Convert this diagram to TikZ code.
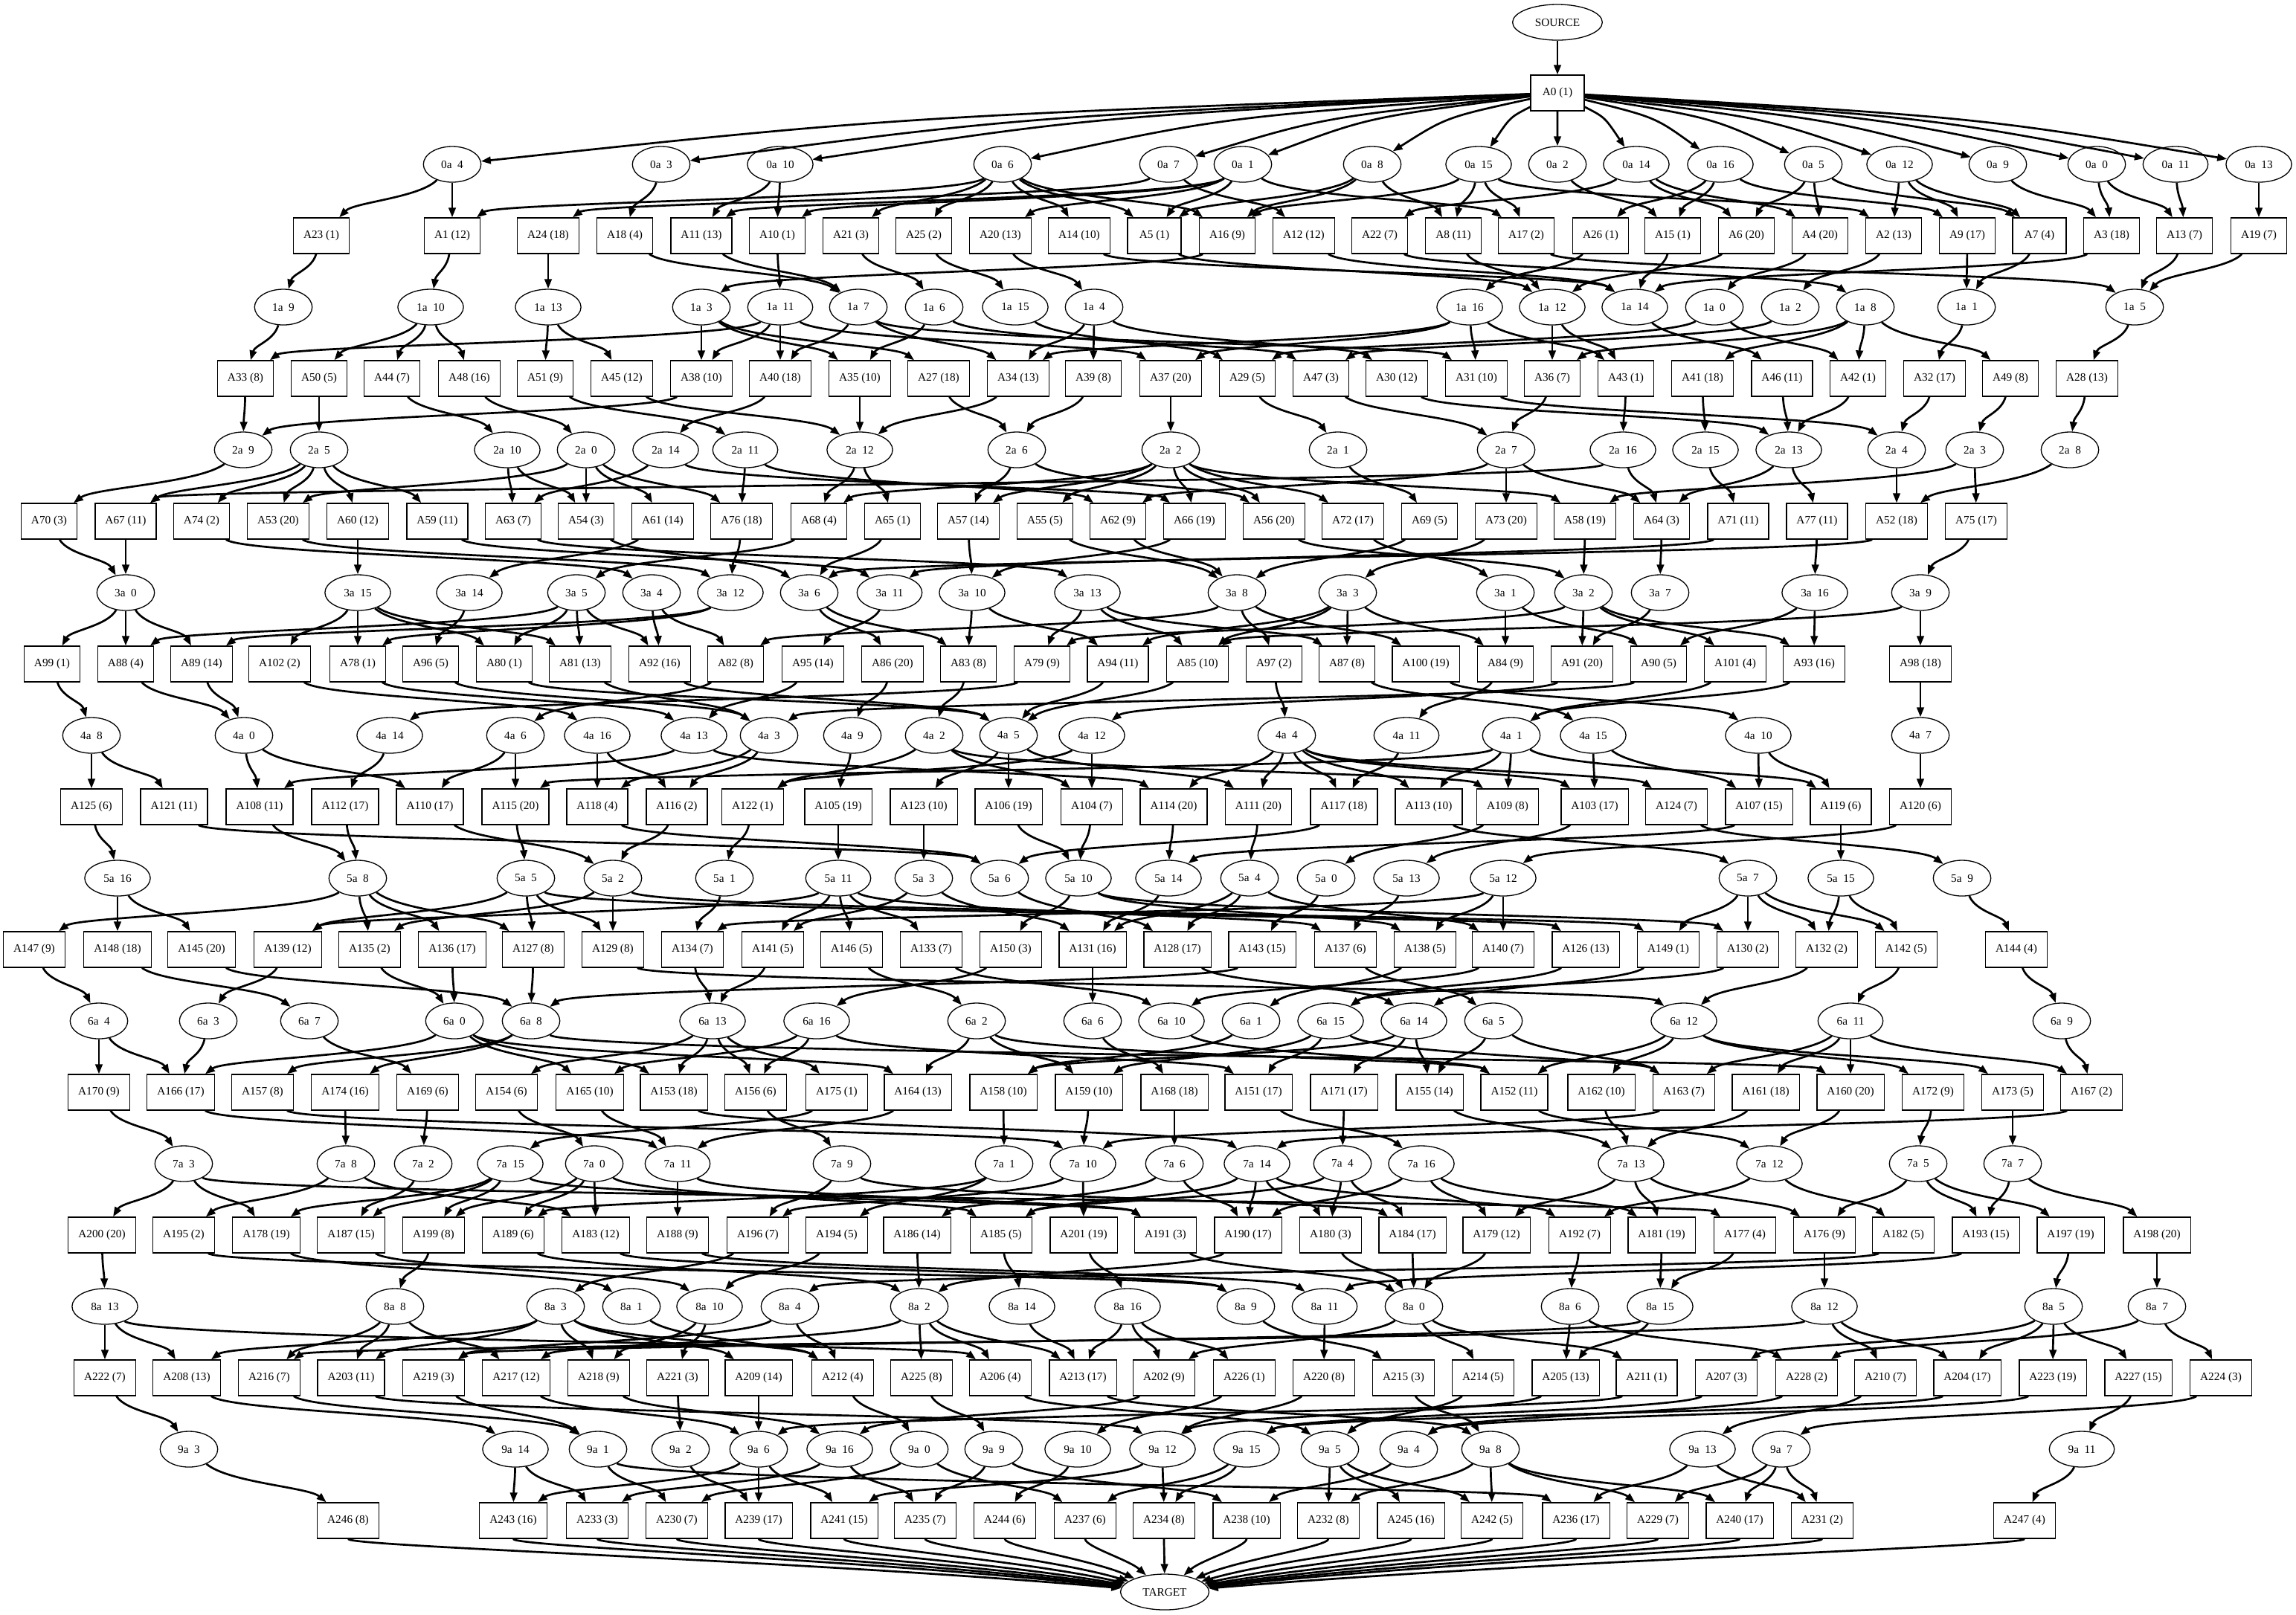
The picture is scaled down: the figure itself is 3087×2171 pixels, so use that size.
\documentclass[tikz,border=0pt]{standalone}
\usepackage{fontspec}
\setmainfont{Liberation Serif}
\usepackage{tikz}
\usetikzlibrary{arrows.meta, shapes.geometric, calc}

\newcommand\flow[2]{\draw[link] let \p1=(#1), \p2=(#2), \n1={max(-0.6cm,min(0.6cm,0.25*(\x2-\x1)))} in
  (#1) .. controls ([xshift=\n1,yshift=-0.45cm]#1.center) and ([xshift=-\n1,yshift=0.45cm]#2.center) .. (#2);}
\newcommand\actrow[2]{\foreach \n/\w/\x in {#2} {\node[act] (A\n) at (\x,#1) {A\n\ (\w)};}}
\newcommand\evtrow[3]{\foreach \n/\x in {#3} {\node[evt] (e#1\n) at (\x,#2) {#1\ \ \n};}}
\newcommand\fanout[1]{\foreach \s/\ts in {#1} {\foreach \t in \ts {\flow{e\s}{A\t}}}}
\newcommand\feed[1]{\foreach \s/\t in {#1} {\flow{A\s}{e\t}}}

\begin{document}
\begin{tikzpicture}[x=0.01cm, y=-0.01cm, font=\fontsize{4.35}{5.2}\selectfont,
  act/.style={draw, line width=0.013cm, minimum width=0.72cm, minimum height=0.48cm, inner xsep=0.135cm, inner ysep=0pt},
  evt/.style={draw, ellipse, line width=0.013cm, minimum width=0.72cm, minimum height=0.48cm, inner xsep=0.125cm, inner ysep=0.04cm},
  link/.style={-{Triangle[length=0.13cm, width=0.095cm]}, line width=0.027cm}]
  \fill[white] (0,0) rectangle (3087,2171);

  \node[evt] (source) at (2094,30) {SOURCE};
  \node[act] (A0) at (2094,125) {A0 (1)};
  \node[evt] (target) at (1566,2141) {TARGET};

  \evtrow{0a}{221}{4/608, 3/889, 10/1049, 6/1348, 7/1571, 1/1671, 8/1845, 15/1988, 2/2094, 14/2200, 16/2313, 5/2438, 12/2554, 9/2686, 0/2819, 11/2925, 13/3037}
  \actrow{317}{23/1/432, 1/12/608, 24/18/737, 18/4/840, 11/13/943, 10/1/1045, 21/3/1144, 25/2/1242, 20/13/1345, 14/10/1451, 5/1/1552, 16/9/1650, 12/12/1753, 22/7/1855, 8/11/1954, 17/2/2052, 26/1/2152, 15/1/2249, 6/20/2348, 4/20/2447, 2/13/2546, 9/17/2645, 7/4/2742, 3/18/2839, 13/7/2937, 19/7/3037}
  \evtrow{1a}{413}{9/381, 10/579, 13/737, 3/943, 11/1049, 7/1154, 6/1256, 15/1365, 4/1471, 16/1976, 12/2087, 14/2198, 0/2305, 2/2407, 8/2508, 1/2644, 5/2870}
  \actrow{509}{33/8/330, 50/5/429, 44/7/527, 48/16/631, 51/9/733, 45/12/836, 38/10/943, 40/18/1049, 35/10/1156, 27/18/1262, 34/13/1369, 39/8/1470, 37/20/1574, 29/5/1677, 47/3/1776, 30/12/1878, 31/10/1985, 36/7/2087, 43/1/2186, 41/18/2289, 46/11/2396, 42/1/2498, 32/17/2601, 49/8/2703, 28/13/2806}
  \evtrow{2a}{605}{9/327, 5/429, 10/682, 0/788, 14/895, 11/1002, 12/1156, 6/1367, 2/1574, 1/1799, 7/2025, 16/2182, 15/2293, 13/2405, 4/2550, 3/2655, 8/2783}
  \actrow{701}{70/3/66, 67/11/169, 74/2/271, 53/20/374, 60/12/481, 59/11/588, 63/7/690, 54/3/788, 61/14/891, 76/18/997, 68/4/1101, 65/1/1200, 57/14/1302, 55/5/1405, 62/9/1503, 66/19/1606, 56/20/1713, 72/17/1819, 69/5/1922, 73/20/2025, 58/19/2131, 64/3/2234, 71/11/2337, 77/11/2443, 52/18/2550, 75/17/2657}
  \evtrow{3a}{797}{0/169, 15/481, 14/631, 5/775, 4/876, 12/982, 6/1088, 11/1196, 10/1307, 13/1462, 8/1663, 3/1812, 1/2024, 2/2129, 7/2232, 16/2440, 9/2582}
  \actrow{893}{99/1/70, 88/4/169, 89/14/271, 102/2/376, 78/1/481, 96/5/579, 80/1/678, 81/13/780, 92/16/887, 82/8/989, 95/14/1093, 86/20/1200, 83/8/1302, 79/9/1401, 94/11/1503, 85/10/1610, 97/2/1713, 87/8/1811, 100/19/1917, 84/9/2024, 91/20/2127, 90/5/2230, 101/4/2333, 93/16/2439, 98/18/2582}
  \evtrow{4a}{989}{8/123, 0/328, 14/524, 6/693, 16/803, 13/933, 3/1034, 9/1146, 2/1256, 5/1356, 12/1468, 4/1730, 11/1891, 1/2032, 15/2142, 10/2364, 7/2582}
  \actrow{1085}{125/6/123, 121/11/234, 108/11/349, 112/17/464, 110/17/578, 115/20/693, 118/4/803, 116/2/910, 122/1/1012, 105/19/1127, 123/10/1242, 106/19/1356, 104/7/1468, 114/20/1578, 111/20/1692, 117/18/1807, 113/10/1921, 109/8/2027, 103/17/2144, 124/7/2254, 107/15/2365, 119/6/2475, 120/6/2582}
  \evtrow{5a}{1181}{16/158, 8/481, 5/707, 2/824, 1/974, 11/1127, 3/1242, 6/1344, 10/1450, 14/1571, 4/1680, 0/1783, 13/1891, 12/2021, 7/2350, 15/2475, 9/2638}
  \actrow{1277}{147/9/46, 148/18/158, 145/20/271, 139/12/387, 135/2/497, 136/17/608, 127/8/717, 129/8/824, 134/7/931, 141/5/1039, 146/5/1145, 133/7/1252, 150/3/1359, 131/16/1469, 128/17/1583, 143/15/1697, 137/6/1809, 138/5/1916, 140/7/2021, 126/13/2132, 149/1/2243, 130/2/2350, 132/2/2456, 142/5/2563, 144/4/2711}
  \evtrow{6a}{1373}{4/133, 3/280, 7/416, 0/611, 8/714, 13/958, 16/1098, 2/1313, 6/1469, 10/1575, 1/1682, 15/1789, 14/1901, 5/2008, 12/2264, 11/2488, 9/2772}
  \actrow{1469}{170/9/133, 166/17/243, 157/8/353, 174/16/464, 169/6/575, 154/6/681, 165/10/793, 153/18/906, 156/6/1016, 175/1/1125, 164/13/1234, 158/10/1349, 159/10/1464, 168/18/1579, 151/17/1692, 171/17/1807, 155/14/1922, 152/11/2036, 162/10/2153, 163/7/2264, 161/18/2374, 160/20/2488, 172/9/2599, 173/5/2706, 167/2/2812}
  \evtrow{7a}{1565}{3/247, 8/465, 2/569, 15/686, 0/799, 11/911, 9/1132, 1/1350, 10/1456, 6/1579, 14/1690, 4/1805, 16/1911, 13/2193, 12/2379, 5/2579, 7/2706}
  \actrow{1661}{200/20/137, 195/2/247, 178/19/358, 187/15/472, 199/8/583, 189/6/690, 183/12/801, 188/9/911, 196/7/1019, 194/5/1125, 186/14/1233, 185/5/1346, 201/19/1457, 191/3/1567, 190/17/1678, 180/3/1789, 184/17/1899, 179/12/2012, 192/7/2124, 181/19/2234, 177/4/2346, 176/9/2453, 182/5/2559, 193/15/2670, 197/19/2784, 198/20/2900}
  \evtrow{8a}{1757}{13/141, 8/531, 3/747, 1/849, 10/954, 4/1062, 2/1236, 14/1374, 16/1516, 9/1675, 11/1781, 0/1901, 6/2111, 15/2232, 12/2453, 5/2761, 7/2900}
  \actrow{1853}{222/7/141, 208/13/251, 216/7/362, 203/11/472, 219/3/583, 217/12/694, 218/9/805, 221/3/911, 209/14/1020, 212/4/1133, 225/8/1239, 206/4/1345, 213/17/1456, 202/9/1565, 226/1/1673, 220/8/1780, 215/3/1887, 214/5/1994, 205/13/2105, 211/1/2214, 207/3/2321, 228/2/2429, 210/7/2535, 204/17/2645, 223/19/2760, 227/15/2875, 224/3/2986}
  \evtrow{9a}{1949}{3/254, 14/693, 1/804, 2/915, 6/1020, 16/1129, 0/1236, 9/1336, 10/1449, 12/1563, 15/1676, 5/1788, 4/1894, 8/2004, 13/2289, 7/2395, 11/2799}
  \actrow{2045}{246/8/468, 243/16/690, 233/3/803, 230/7/910, 239/17/1020, 241/15/1135, 235/7/1244, 244/6/1351, 237/6/1459, 234/8/1565, 238/10/1676, 232/8/1786, 245/16/1897, 242/5/2006, 236/17/2119, 229/7/2229, 240/17/2339, 231/2/2450, 247/4/2722}

  \draw[link] (source) -- (A0);
  \foreach \t in {4,3,10,6,7,1,8,15,2,14,16,5,12,9,0,11,13}
    {\draw[link] (A0) .. controls ($(A0)!0.6!(e0a\t)+(0,-25)$) .. (e0a\t);}

  \fanout{0a4/{23,1}, 0a3/{18}, 0a10/{11,10}, 0a6/{1,21,25,14,5,16}, 0a7/{24,12}, 0a1/{11,10,20,5,17}, 0a8/{5,16,8}, 0a15/{16,8,17,2}, 0a2/{15}, 0a14/{22,6,4}, 0a16/{26,15,9}, 0a5/{6,4,7}, 0a12/{2,9,7}, 0a9/{3}, 0a0/{3,13}, 0a11/{13}, 0a13/{19}}
  \feed{23/1a9, 1/1a10, 24/1a13, 18/1a7, 11/1a7, 10/1a11, 21/1a6, 25/1a15, 20/1a4, 14/1a14, 5/1a12, 16/1a3, 12/1a14, 22/1a8, 8/1a12, 17/1a5, 26/1a16, 15/1a14, 6/1a12, 4/1a0, 2/1a2, 9/1a1, 7/1a1, 3/1a14, 13/1a5, 19/1a5}

  \fanout{1a9/{33}, 1a10/{50,44,48}, 1a13/{51,45}, 1a3/{38,35,27}, 1a11/{33,38,40,37}, 1a7/{40,34,31}, 1a6/{35,47}, 1a15/{29}, 1a4/{39,34,30}, 1a16/{34,37,31,43}, 1a12/{43,36}, 1a14/{46}, 1a0/{42,29}, 1a2/{47}, 1a8/{41,42,49,36}, 1a1/{32}, 1a5/{28}}
  \feed{33/2a9, 50/2a5, 44/2a10, 48/2a0, 51/2a11, 45/2a12, 38/2a9, 40/2a14, 35/2a12, 27/2a6, 34/2a12, 39/2a6, 37/2a2, 29/2a1, 47/2a7, 30/2a13, 31/2a4, 36/2a7, 43/2a16, 41/2a15, 46/2a13, 42/2a13, 32/2a4, 49/2a3, 28/2a8}

  \fanout{2a9/{70}, 2a5/{67,74,53,60,59}, 2a10/{63,54}, 2a0/{54,61,53,76}, 2a14/{63,66}, 2a11/{76,62}, 2a12/{68,65}, 2a6/{57,56}, 2a2/{68,57,55,66,56,72,58}, 2a1/{69}, 2a7/{73,62,64}, 2a16/{64,67}, 2a15/{71}, 2a13/{77,64}, 2a4/{52}, 2a3/{75,58}, 2a8/{52}}
  \feed{70/3a0, 67/3a0, 74/3a4, 53/3a12, 60/3a15, 59/3a11, 63/3a13, 54/3a6, 61/3a14, 76/3a12, 68/3a5, 65/3a6, 57/3a10, 55/3a8, 62/3a8, 66/3a10, 56/3a2, 72/3a1, 69/3a8, 73/3a3, 58/3a2, 64/3a7, 71/3a11, 77/3a16, 52/3a6, 75/3a9}

  \fanout{3a0/{99,88,89}, 3a15/{102,78,80,81}, 3a14/{96}, 3a5/{88,80,81,92}, 3a4/{92,82}, 3a12/{89,78}, 3a6/{86,83}, 3a11/{95}, 3a10/{83,94}, 3a13/{79,85,87}, 3a8/{82,97,100}, 3a3/{94,87,84,85}, 3a1/{84,90}, 3a2/{91,101,93,79}, 3a7/{91}, 3a16/{93,90}, 3a9/{98,85}}
  \feed{99/4a8, 88/4a0, 89/4a0, 102/4a16, 78/4a13, 96/4a3, 80/4a5, 81/4a3, 92/4a5, 82/4a6, 95/4a13, 86/4a9, 83/4a2, 79/4a14, 94/4a5, 85/4a5, 97/4a4, 87/4a15, 100/4a10, 84/4a11, 91/4a12, 90/4a3, 101/4a1, 93/4a1, 98/4a7}

  \fanout{4a8/{125,121}, 4a0/{108,110}, 4a14/{112}, 4a6/{110,115}, 4a16/{118,116}, 4a13/{108,114}, 4a3/{116,118}, 4a9/{105}, 4a2/{122,104,109}, 4a5/{123,106,111}, 4a12/{104,122}, 4a4/{114,111,117,113,124,103}, 4a11/{117}, 4a1/{113,109,115,119}, 4a15/{103,107}, 4a10/{107,119}, 4a7/{120}}
  \feed{125/5a16, 121/5a6, 108/5a8, 112/5a8, 110/5a2, 115/5a5, 118/5a6, 116/5a2, 122/5a1, 105/5a11, 123/5a3, 106/5a10, 104/5a10, 114/5a14, 111/5a4, 117/5a6, 113/5a7, 109/5a0, 103/5a13, 124/5a9, 107/5a14, 119/5a15, 120/5a12}

  \fanout{5a16/{148,145}, 5a8/{147,135,136,127}, 5a5/{139,129,126,127}, 5a2/{129,135,149}, 5a1/{134}, 5a11/{141,146,133,137,139}, 5a3/{141,131}, 5a6/{128}, 5a10/{150,138,130}, 5a14/{131}, 5a4/{128,131,140}, 5a0/{143}, 5a13/{137}, 5a12/{138,140,134}, 5a7/{149,130,132,142}, 5a15/{132,142}, 5a9/{144}}
  \feed{147/6a4, 148/6a7, 145/6a8, 139/6a3, 135/6a0, 136/6a0, 127/6a8, 129/6a12, 134/6a13, 141/6a13, 146/6a2, 133/6a10, 150/6a16, 131/6a6, 128/6a14, 143/6a8, 137/6a5, 138/6a1, 140/6a10, 126/6a15, 149/6a14, 130/6a15, 132/6a12, 142/6a11, 144/6a9}

  \fanout{6a4/{170,166}, 6a3/{166}, 6a7/{169}, 6a0/{166,165,153,164}, 6a8/{174,157,160}, 6a13/{154,153,156,175}, 6a16/{156,151,165}, 6a2/{164,159,152}, 6a6/{168}, 6a10/{152}, 6a1/{158}, 6a15/{151,159,163}, 6a14/{171,155,158}, 6a5/{155,163}, 6a12/{152,162,172,173}, 6a11/{163,161,160,167}, 6a9/{167}}
  \feed{170/7a3, 166/7a11, 157/7a10, 174/7a8, 169/7a2, 154/7a0, 165/7a11, 153/7a14, 156/7a9, 175/7a15, 164/7a11, 158/7a1, 159/7a10, 168/7a6, 151/7a16, 171/7a4, 155/7a13, 152/7a12, 162/7a13, 163/7a10, 161/7a13, 160/7a12, 172/7a5, 173/7a7, 167/7a14}

  \fanout{7a3/{200,178,177}, 7a8/{195,183}, 7a2/{187}, 7a15/{178,187,199,191}, 7a0/{189,183,199,185}, 7a11/{188,191}, 7a9/{196,184}, 7a1/{189,194}, 7a10/{201,196}, 7a6/{186,190}, 7a14/{185,190,180,192}, 7a4/{185,180,184}, 7a16/{190,179,181}, 7a13/{179,181,176}, 7a12/{192,182}, 7a5/{176,193,197}, 7a7/{193,198}}
  \feed{200/8a13, 195/8a9, 178/8a1, 187/8a10, 199/8a8, 189/8a2, 183/8a9, 188/8a11, 196/8a3, 194/8a10, 186/8a2, 185/8a14, 201/8a16, 191/8a0, 190/8a2, 180/8a0, 184/8a0, 179/8a0, 192/8a6, 181/8a15, 177/8a15, 176/8a12, 182/8a4, 193/8a11, 197/8a5, 198/8a7}

  \fanout{8a13/{222,208,206}, 8a8/{216,203,217}, 8a3/{208,203,218,209,212}, 8a1/{212}, 8a10/{218,221}, 8a4/{212,219}, 8a2/{225,213,217,206}, 8a14/{213}, 8a16/{202,226,213}, 8a9/{215}, 8a11/{220}, 8a0/{214,202,211}, 8a6/{205,228}, 8a15/{205,219}, 8a12/{210,204,216}, 8a5/{204,223,227,207}, 8a7/{224,228}}
  \feed{222/9a3, 208/9a14, 216/9a1, 203/9a12, 219/9a1, 217/9a6, 218/9a16, 221/9a2, 209/9a6, 212/9a0, 225/9a9, 206/9a5, 213/9a8, 202/9a16, 226/9a10, 220/9a12, 215/9a8, 214/9a5, 205/9a12, 211/9a6, 207/9a15, 228/9a4, 210/9a13, 204/9a15, 223/9a4, 227/9a11, 224/9a7}

  \fanout{9a3/{246}, 9a14/{243,233}, 9a1/{230,236}, 9a2/{239}, 9a6/{243,241,239}, 9a16/{235,233}, 9a0/{230,237}, 9a9/{235,238}, 9a10/{244}, 9a12/{241,234}, 9a15/{234,237}, 9a5/{232,242,245}, 9a4/{238}, 9a8/{242,232,229,240}, 9a13/{236,231}, 9a7/{229,240,231}, 9a11/{247}}
  \foreach \s in {246,243,233,230,239,241,235,244,237,234,238,232,245,242,236,229,240,231,247}
    {\draw[link] (A\s) .. controls ([yshift=-0.35cm]A\s.center) and ($(target)!0.45!(A\s)$) .. (target);}
\end{tikzpicture}
\end{document}
